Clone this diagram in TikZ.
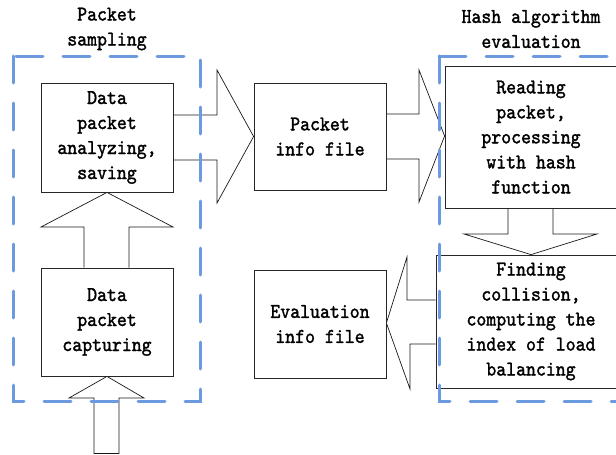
\documentclass[tikz,border=0pt]{standalone}
\usepackage{fontspec}
\setmonofont{lmmono10-regular}[Extension=.otf,FakeStretch=0.9,FakeBold=1.5]
\usetikzlibrary{calc,backgrounds}
\definecolor{dashblue}{RGB}{108,154,222}
\tikzset{
  blk/.style={draw=black!85, line width=0.8pt, fill=white, align=center, inner sep=0pt,
    font=\ttfamily\fontsize{21}{25}\selectfont},
  barrow/.style={draw=black!90, line width=0.7pt, fill=white, line join=miter},
  group/.style={draw=dashblue, line width=3pt, dash pattern=on 27pt off 20pt, line cap=round},
  ttl/.style={align=center, font=\ttfamily\fontsize{21}{25}\selectfont, inner sep=0pt}
}
\begin{document}
\begin{tikzpicture}[x=1pt,y=-1pt]
\useasboundingbox (0,0) rectangle (616,455);
% boxes
\node[blk, minimum width=132pt, minimum height=109pt] (ana) at (107,137.5) {Data\\packet\\analyzing,\\saving};
\node[blk, minimum width=132pt, minimum height=108pt] (cap) at (107,322) {Data\\packet\\capturing};
\node[blk, minimum width=132pt, minimum height=107pt] (pif) at (320,136.5) {Packet\\info file};
\node[blk, minimum width=172pt, minimum height=142pt] (read) at (531,137) {Reading\\packet,\\processing\\with hash\\function};
\node[blk, minimum width=190pt, minimum height=133pt] (find) at (531,321.5) {Finding\\collision,\\computing the\\index of load\\balancing};
\node[blk, minimum width=132pt, minimum height=108pt] (eif) at (320,324) {Evaluation\\info file};
\coordinate (src) at (107,453.5);
% block arrows
\begin{pgfonlayer}{background}
% ana -> pif
\draw[barrow] (ana.east |- 0,115) -- (217,115) -- (217,70) -- (pif.west) -- (217,203) -- (217,160) -- (ana.east |- 0,160);
% pif -> read
\draw[barrow] (pif.east |- 0,114) -- (419,114) -- (419,70) -- (read.west |- 0,136) -- (419,202) -- (419,159) -- (pif.east |- 0,159);
% read -> find
\draw[barrow] (508,0 |- read.south) -- (508,234) -- (464,234) -- (find.north) -- (597,234) -- (553,234) -- (553,0 |- read.south);
% find -> eif
\draw[barrow] (find.west |- 0,300) -- (407,300) -- (407,257) -- (eif.east |- 0,323) -- (410,389) -- (410,344) -- (find.west |- 0,344);
% cap -> ana
\draw[barrow] (84,0 |- cap.north) -- (84,227) -- (41,227) -- (ana.south) -- (173,227) -- (129,227) -- (129,0 |- cap.north);
% src -> cap
\draw[barrow] (src -| 94,0) -- (94,398) -- (69,398) -- (cap.south) -- (144,398) -- (119,398) -- (src -| 119,0) -- cycle;
\end{pgfonlayer}
% groups
\draw[group] (13,56) -- (13,401) -- (200,401) -- (200,56) -- cycle;
\draw[group] (439,56) -- (439,401) -- (640,401);
\draw[group] (439,56) -- (640,56);
% titles
\node[ttl] (t1) at (107,29) {Packet\\sampling};
\node[ttl] (t2) at (531,29) {Hash algorithm\\evaluation};
\end{tikzpicture}
\end{document}
